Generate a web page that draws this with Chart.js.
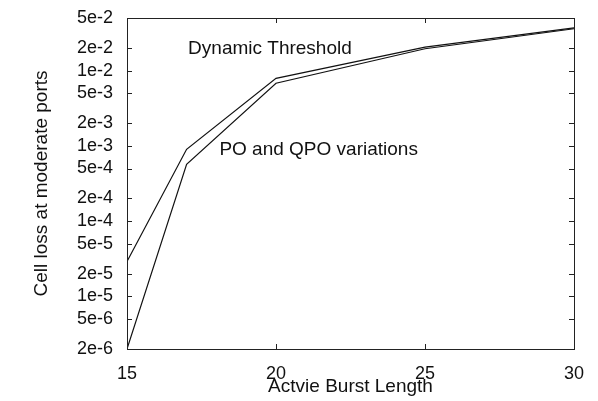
<!DOCTYPE html>
<html>
<head>
<meta charset="utf-8">
<style>
  html, body { margin: 0; padding: 0; background: #fff; }
  #wrap { width: 598px; height: 401px; }
</style>
<script src="https://cdn.jsdelivr.net/npm/chart.js@4.4.0/dist/chart.umd.min.js"></script>
</head>
<body>
<div id="wrap"><canvas id="myChart"></canvas></div>
<script>
const burstLength = [15, 17, 20, 25, 30];
const dynamicThreshold = [2.9e-5, 9e-4, 7.9e-3, 2.05e-2, 3.7e-2];
const poQpo = [2e-6, 5.7e-4, 6.8e-3, 1.95e-2, 3.6e-2];

const xTickValues = [15, 20, 25, 30];
const yTickValues = [2e-6, 5e-6, 1e-5, 2e-5, 5e-5, 1e-4, 2e-4, 5e-4, 1e-3, 2e-3, 5e-3, 1e-2, 2e-2, 5e-2];
const yTickLabels = ["2e-6", "5e-6", "1e-5", "2e-5", "5e-5", "1e-4", "2e-4", "5e-4", "1e-3", "2e-3", "5e-3", "1e-2", "2e-2", "5e-2"];

// curve labels, placed in data coordinates
const annotations = [
    { text: "Dynamic Threshold", x: 17.05, y: 1.66e-2 },
    { text: "PO and QPO variations", x: 18.1, y: 7.6e-4 }
];

const FONT = '"Liberation Sans", Arial, Helvetica, sans-serif';
const INK = "#111";

// box round the plot, inward ticks on all four sides, curve labels
const framePlugin = {
    id: "frame",
    afterDatasetsDraw(chart) {
        const { ctx, chartArea: a, scales: { x, y } } = chart;
        ctx.save();
        ctx.strokeStyle = "#222";
        ctx.lineWidth = 1;
        ctx.strokeRect(Math.round(a.left) + 0.5, Math.round(a.top) + 0.5,
            Math.round(a.right - a.left), Math.round(a.bottom - a.top));
        ctx.beginPath();
        xTickValues.forEach(v => {
            const px = Math.round(x.getPixelForValue(v)) + 0.5;
            ctx.moveTo(px, a.bottom); ctx.lineTo(px, a.bottom - 5);
            ctx.moveTo(px, a.top); ctx.lineTo(px, a.top + 5);
        });
        yTickValues.forEach(v => {
            const py = Math.round(y.getPixelForValue(v)) + 0.5;
            ctx.moveTo(a.left, py); ctx.lineTo(a.left + 5, py);
            ctx.moveTo(a.right, py); ctx.lineTo(a.right - 5, py);
        });
        ctx.stroke();
        ctx.font = "19px " + FONT;
        ctx.fillStyle = INK;
        annotations.forEach(t => {
            ctx.fillText(t.text, x.getPixelForValue(t.x), y.getPixelForValue(t.y));
        });
        ctx.restore();
    }
};

new Chart("myChart", {
    type: "line",
    data: {
        datasets: [{
            label: "Dynamic Threshold",
            data: burstLength.map((v, i) => ({ x: v, y: dynamicThreshold[i] })),
            borderColor: INK, borderWidth: 1.2, pointRadius: 0, tension: 0, fill: false
        }, {
            label: "PO and QPO variations",
            data: burstLength.map((v, i) => ({ x: v, y: poQpo[i] })),
            borderColor: INK, borderWidth: 1.2, pointRadius: 0, tension: 0, fill: false
        }]
    },
    options: {
        animation: false,
        maintainAspectRatio: false,
        layout: { padding: { top: 18, right: 24, left: 0, bottom: 0 } },
        plugins: { legend: { display: false }, tooltip: { enabled: false } },
        scales: {
            x: {
                type: "linear", min: 15, max: 30,
                afterBuildTicks: s => { s.ticks = xTickValues.map(v => ({ value: v })); },
                afterFit: s => { s.height = 52; s.paddingLeft = 0; s.paddingRight = 0; },
                grid: { display: false, drawTicks: false },
                border: { display: false },
                ticks: { padding: 14, color: INK, font: { family: FONT, size: 18 }, maxRotation: 0, autoSkip: false, callback: v => String(v) },
                title: { display: true, text: "Actvie Burst Length", color: INK, font: { family: FONT, size: 19, lineHeight: 1.2 }, padding: { top: 0, bottom: 3 } }
            },
            y: {
                type: "logarithmic", min: 2e-6, max: 5e-2,
                afterBuildTicks: s => { s.ticks = yTickValues.map(v => ({ value: v })); },
                afterFit: s => { s.width = 127; s.paddingTop = 0; s.paddingBottom = 0; },
                grid: { display: false, drawTicks: false },
                border: { display: false },
                ticks: { padding: 14, color: INK, font: { family: FONT, size: 18 }, autoSkip: false, callback: (v, i) => yTickLabels[i] },
                title: { display: true, text: "Cell loss at moderate ports", color: INK, font: { family: FONT, size: 19, lineHeight: 1.2 }, padding: { top: 30, bottom: 0 } }
            }
        }
    },
    plugins: [framePlugin]
});
</script>
</body>
</html>
